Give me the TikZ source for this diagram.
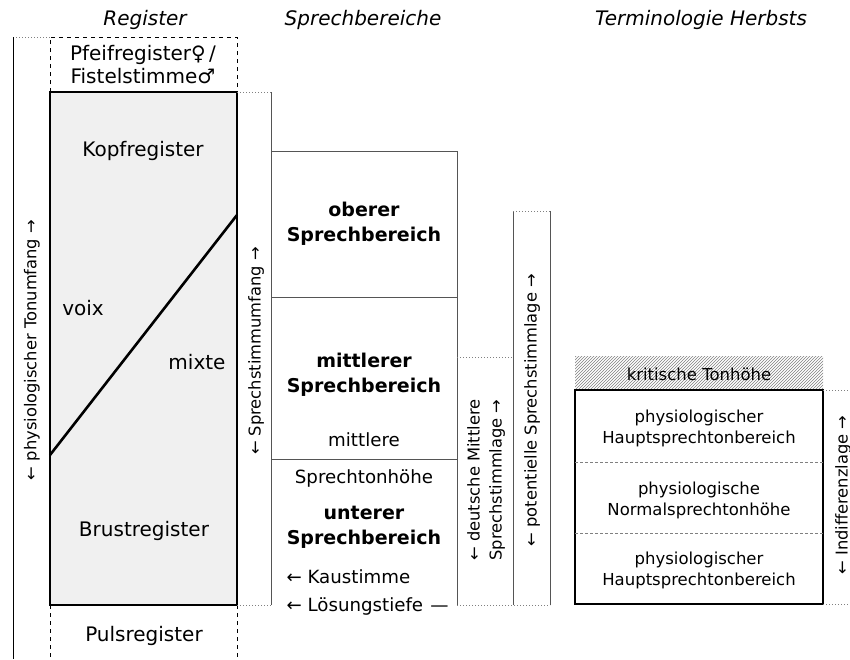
\documentclass[tikz,border=0pt]{standalone}
\usepackage{fontspec}
\setmainfont{DejaVu Sans}
\usetikzlibrary{patterns}
\definecolor{boxfill}{HTML}{F0F0F0}
\definecolor{linegray}{HTML}{555555}
\begin{document}
\begin{tikzpicture}[x=1pt,y=-1pt,
  hdr/.style={font=\fontsize{20}{24}\selectfont\itshape},
  reg/.style={font=\fontsize{20}{23}\selectfont, align=center},
  sprb/.style={font=\fontsize{19}{25}\selectfont\bfseries, align=center},
  sprn/.style={font=\fontsize{18.2}{21}\selectfont, align=center},
  herb/.style={font=\fontsize{16.5}{21}\selectfont, align=center},
  vert/.style={font=\fontsize{16.3}{22}\selectfont, rotate=90, align=center},
  gline/.style={draw=linegray, line width=1pt},
  dots/.style={draw=gray, line width=1pt, dotted},
  dashln/.style={draw=black, line width=1pt, dash pattern=on 4pt off 4pt},
  heavy/.style={draw=black, line width=2.6pt}]
\useasboundingbox (0,0) rectangle (850,659);

% headers
\node[hdr] (hreg) at (145,20) {Register};
\node[hdr] (hspr) at (363,20) {Sprechbereiche};
\node[hdr] (hherb) at (701,20) {Terminologie Herbsts};

% physiologischer Tonumfang
\draw[dots] (13,37) -- (50,37);
\draw[gline, draw=black] (13,37) -- (13,659);
\node[vert] (tonumfang) at (32,350) {← physiologischer Tonumfang →};

% Register column
\draw[dashln] (50,92) -- (50,37) -- (237,37) -- (237,92);
\draw[dashln] (50,605) -- (50,659);
\draw[dashln] (237,605) -- (237,659);
\draw[heavy, fill=boxfill] (50,92) rectangle (237,605);
\draw[heavy] (50,455) -- (237,215);
\node[reg] (pfeif) at (143,65) {Pfeifregister♀\,/\\Fistelstimme♂};
\node[reg] (kopf) at (143,151) {Kopfregister};
\node[reg] (voix) at (83,308) {voix};
\node[reg] (mixte) at (197,362) {mixte};
\node[reg] (brust) at (144,531) {Brustregister};
\node[reg] (puls) at (144,636) {Pulsregister};

% Sprechstimmumfang
\draw[dots] (237,92) -- (271,92);
\draw[dots] (237,605) -- (271,605);
\draw[gline] (271,92) -- (271,605);
\node[vert] (umfang) at (256,351) {← Sprechstimmumfang →};

% Sprechbereiche
\draw[gline] (271,151) -- (457,151) -- (457,605);
\draw[gline] (271,297) -- (457,297);
\draw[gline] (271,459) -- (457,459);
\node[sprb] (ober) at (364,224) {oberer\\Sprechbereich};
\node[sprb] (mittel) at (364,375) {mittlerer\\Sprechbereich};
\node[sprn] (mittlere) at (364,440) {mittlere};
\node[sprn] (tonhoehe) at (364,478) {Sprechtonhöhe};
\node[sprb] (unter) at (364,527) {unterer\\Sprechbereich};
\node[sprn, anchor=west] (kau) at (283,577) {← Kaustimme};
\node[sprn, anchor=west] (loes) at (283,606) {← Lösungstiefe\hspace{0.4em}—};

% deutsche mittlere Sprechstimmlage
\draw[dots] (457,357) -- (513,357);
\draw[dots] (457,605) -- (550,605);
\draw[gline] (513,211) -- (513,605);
\node[vert] (dtsch) at (486,480) {← deutsche Mittlere\\Sprechstimmlage →};

% potentielle Sprechstimmlage
\draw[dots] (513,211) -- (550,211);
\draw[gline] (550,211) -- (550,605);
\node[vert] (pot) at (532,410) {← potentielle Sprechstimmlage →};

% Terminologie Herbsts
\fill[pattern=north east lines, pattern color=gray] (575,356) rectangle (823,390);
\node[herb] (krit) at (699,374) {kritische Tonhöhe};
\draw[black, line width=1.6pt] (575,390) rectangle (823,604);
\draw[gray, line width=1pt, dash pattern=on 3pt off 2pt] (575,462) -- (823,462);
\draw[gray, line width=1pt, dash pattern=on 3pt off 2pt] (575,533) -- (823,533);
\node[herb] (haupt1) at (699,428) {physiologischer\\Hauptsprechtonbereich};
\node[herb] (normal) at (699,500) {physiologische\\Normalsprechtonhöhe};
\node[herb] (haupt2) at (699,570) {physiologischer\\Hauptsprechtonbereich};
\draw[dots] (823,390) -- (850,390);
\draw[dots] (823,604) -- (850,604);
\node[vert] (indiff) at (843,495) {← Indifferenzlage →};
\end{tikzpicture}
\end{document}
